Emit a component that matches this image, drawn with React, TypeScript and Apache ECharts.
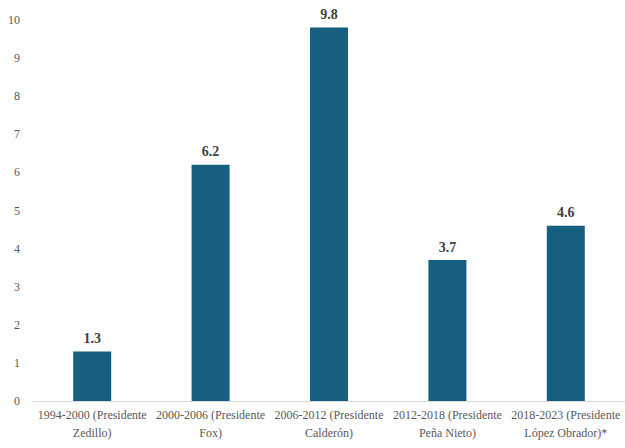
import React, { useEffect, useRef } from "react";
import * as echarts from "echarts";

const categories = [
  "1994-2000 (Presidente\nZedillo)",
  "2000-2006 (Presidente\nFox)",
  "2006-2012 (Presidente\nCalderón)",
  "2012-2018 (Presidente\nPeña Nieto)",
  "2018-2023 (Presidente\nLópez Obrador)*",
];
const values = [1.3, 6.2, 9.8, 3.7, 4.6];

const FONT = "Liberation Serif";

export default function App() {
  const ref = useRef<HTMLDivElement>(null);
  useEffect(() => {
    if (!ref.current) return;
    const chart = echarts.init(ref.current, undefined, { renderer: "svg" });
    chart.setOption({
      animation: false,
      backgroundColor: "#ffffff",
      grid: { left: 33, right: -2, top: 20, bottom: 47, containLabel: false },
      xAxis: {
        type: "category",
        data: categories,
        axisLine: { show: true, lineStyle: { color: "#d9d9d9", width: 1 } },
        axisTick: { show: false },
        axisLabel: {
          color: "#595959",
          fontFamily: FONT,
          fontSize: 12,
          lineHeight: 18,
          margin: 5,
          interval: 0,
        },
      },
      yAxis: {
        type: "value",
        min: 0,
        max: 10,
        interval: 1,
        splitLine: { show: false },
        axisLine: { show: false },
        axisTick: { show: false },
        axisLabel: {
          color: "#595959",
          fontFamily: FONT,
          fontSize: 12,
          margin: 13,
        },
      },
      series: [
        {
          type: "bar",
          data: values,
          barWidth: 38,
          itemStyle: { color: "#175f80" },
          label: {
            show: true,
            position: "top",
            distance: 6,
            color: "#404040",
            fontFamily: FONT,
            fontWeight: "bold",
            fontSize: 14,
            formatter: (p: any) => Number(p.value).toFixed(1),
          },
        },
      ],
    });
    return () => chart.dispose();
  }, []);
  return (
    <div
      ref={ref}
      style={{ position: "absolute", left: 0, top: 0, width: 625, height: 448 }}
    />
  );
}
